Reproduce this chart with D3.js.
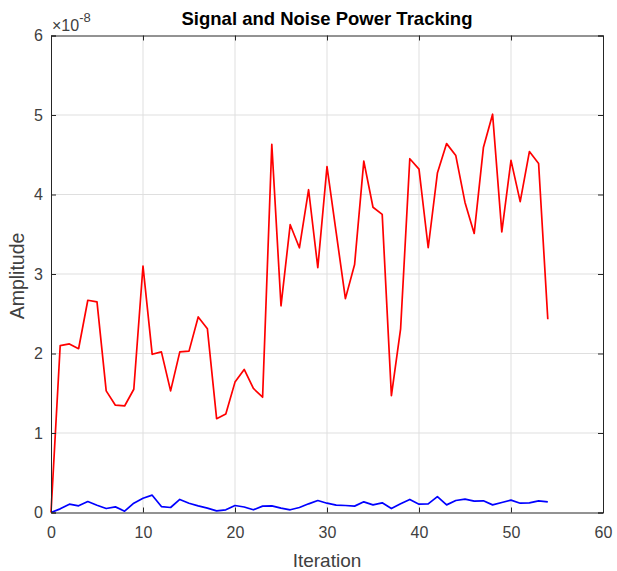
<!DOCTYPE html>
<html>
<head>
<meta charset="utf-8">
<script src="https://cdn.jsdelivr.net/npm/d3@7"></script>
<style>
  body { margin: 0; background: #fff; }
  svg { display: block; font-family: "Liberation Sans", Arial, sans-serif; }
</style>
</head>
<body>
<svg id="chart" width="617" height="571"></svg>
<script>
// Iteration index shared by both series
const iterations = d3.range(0, 55);

// Signal power per iteration (units of 1e-8)
const signalPower = [
  0.00, 2.10, 2.12, 2.06, 2.67, 2.65, 1.53, 1.35, 1.34, 1.55,
  3.10, 1.99, 2.02, 1.53, 2.02, 2.03, 2.46, 2.31, 1.18, 1.24,
  1.64, 1.80, 1.56, 1.45, 4.63, 2.60, 3.62, 3.33, 4.06, 3.08,
  4.35, 3.52, 2.69, 3.12, 4.42, 3.84, 3.75, 1.47, 2.31, 4.45,
  4.32, 3.33, 4.27, 4.64, 4.49, 3.90, 3.51, 4.59, 5.01, 3.53,
  4.43, 3.91, 4.54, 4.39, 2.43
];

// Noise power per iteration (units of 1e-8)
const noisePower = [
  0.000, 0.046, 0.105, 0.084, 0.138, 0.092, 0.050, 0.071, 0.017, 0.117,
  0.180, 0.218, 0.075, 0.063, 0.164, 0.117, 0.084, 0.055, 0.021, 0.034,
  0.088, 0.069, 0.034, 0.080, 0.084, 0.055, 0.034, 0.063, 0.109, 0.151,
  0.117, 0.092, 0.088, 0.080, 0.134, 0.096, 0.122, 0.050, 0.109, 0.164,
  0.105, 0.109, 0.200, 0.096, 0.151, 0.168, 0.143, 0.147, 0.096, 0.126,
  0.155, 0.117, 0.122, 0.147, 0.134
];

const xTicks = [0, 10, 20, 30, 40, 50, 60];
const yTicks = [0, 1, 2, 3, 4, 5, 6];

const axisColor = "#262626";
const labelColor = "#404040";
const gridColor = "#dfdfdf";

const margin = { left: 51, right: 14, top: 35.5, bottom: 58.5 };
const W = 617, H = 571;
const innerW = W - margin.left - margin.right;
const innerH = H - margin.top - margin.bottom;

const svg = d3.select("#chart");
const g = svg.append("g").attr("transform", `translate(${margin.left},${margin.top})`);

const x = d3.scaleLinear().domain([0, 60]).range([0, innerW]);
const y = d3.scaleLinear().domain([0, 6]).range([innerH, 0]);

// Grid lines
g.append("g").selectAll("line").data(xTicks.slice(1, -1)).join("line")
  .attr("x1", d => x(d)).attr("x2", d => x(d))
  .attr("y1", 0).attr("y2", innerH)
  .attr("stroke", gridColor).attr("stroke-width", 1);
g.append("g").selectAll("line").data(yTicks.slice(1, -1)).join("line")
  .attr("y1", d => y(d)).attr("y2", d => y(d))
  .attr("x1", 0).attr("x2", innerW)
  .attr("stroke", gridColor).attr("stroke-width", 1);

// Series lines
const line = d3.line().x((d, i) => x(iterations[i])).y(d => y(d));
g.append("path").datum(signalPower)
  .attr("fill", "none").attr("stroke", "#ff0000").attr("stroke-width", 1.7)
  .attr("stroke-linejoin", "round").attr("d", line);
g.append("path").datum(noisePower)
  .attr("fill", "none").attr("stroke", "#0000ff").attr("stroke-width", 1.7)
  .attr("stroke-linejoin", "round").attr("d", line);

// Axes: bottom/left with labels, top/right as box with inward ticks
const tickLen = 5;
const xAxis = d3.axisBottom(x).tickValues(xTicks).tickSize(-tickLen).tickPadding(14).tickFormat(d3.format("d"));
const yAxis = d3.axisLeft(y).tickValues(yTicks).tickSize(-tickLen).tickPadding(8).tickFormat(d3.format("d"));
const xTop = d3.axisTop(x).tickValues(xTicks).tickSize(-tickLen).tickFormat("");
const yRight = d3.axisRight(y).tickValues(yTicks).tickSize(-tickLen).tickFormat("");

function styleAxis(sel) {
  sel.selectAll("path.domain").attr("stroke", axisColor).attr("stroke-width", 1);
  sel.selectAll(".tick line").attr("stroke", axisColor);
  sel.selectAll("text").attr("fill", labelColor).style("font-size", "16px")
    .style("font-family", "'Liberation Sans', Arial, sans-serif");
}

g.append("g").attr("transform", `translate(0,${innerH})`).call(xAxis).call(styleAxis);
g.append("g").call(yAxis).call(styleAxis);
g.append("g").call(xTop).call(styleAxis);
g.append("g").attr("transform", `translate(${innerW},0)`).call(yRight).call(styleAxis);

// Exponent label
const expo = svg.append("text").attr("x", margin.left + 1).attr("y", 31)
  .attr("fill", labelColor).style("font-size", "16px");
expo.append("tspan").text("\u00d710");
expo.append("tspan").attr("dy", -9).style("font-size", "13px").text("-8");

// Title
svg.append("text").attr("x", margin.left + innerW / 2).attr("y", 25)
  .attr("text-anchor", "middle").attr("fill", "#000")
  .style("font-size", "18.5px").style("font-weight", "bold")
  .text("Signal and Noise Power Tracking");

// Axis labels
svg.append("text").attr("x", margin.left + innerW / 2).attr("y", 567)
  .attr("text-anchor", "middle").attr("fill", labelColor)
  .style("font-size", "19px").text("Iteration");
svg.append("text")
  .attr("transform", `translate(24,${margin.top + innerH / 2 + 2}) rotate(-90)`)
  .attr("text-anchor", "middle").attr("fill", labelColor)
  .style("font-size", "19.5px").text("Amplitude");
</script>
</body>
</html>
